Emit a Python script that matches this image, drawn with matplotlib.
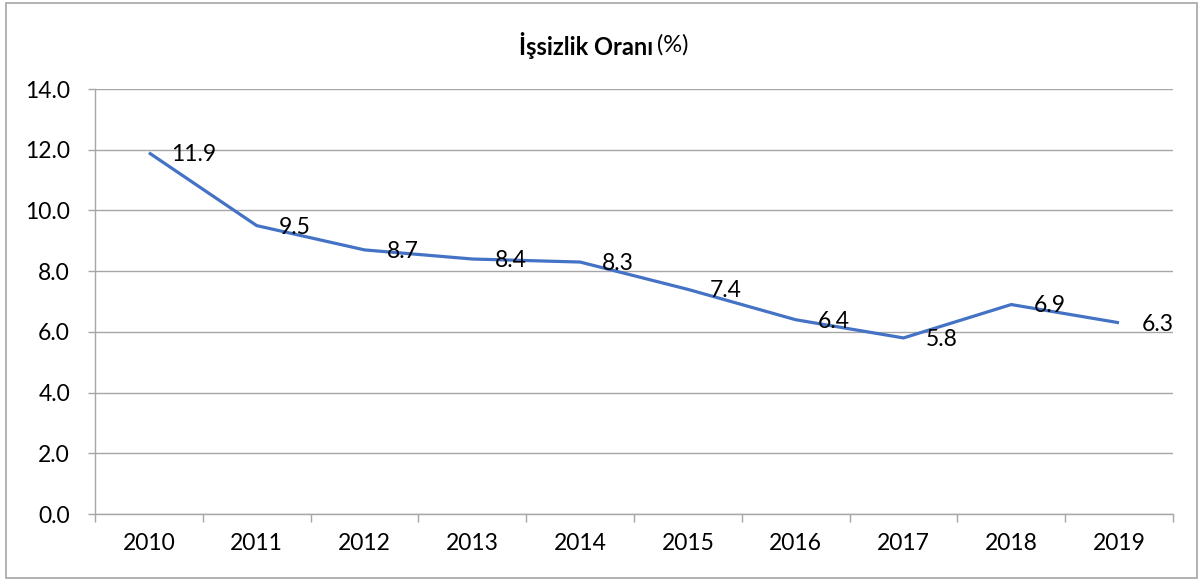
import matplotlib
matplotlib.use("Agg")
from matplotlib import pyplot as plt
from matplotlib.patches import Rectangle
from matplotlib.ticker import FixedLocator, NullFormatter

years = ["2010", "2011", "2012", "2013", "2014", "2015", "2016", "2017", "2018", "2019"]
rates = [11.9, 9.5, 8.7, 8.4, 8.3, 7.4, 6.4, 5.8, 6.9, 6.3]
y_ticks = [0, 2, 4, 6, 8, 10, 12, 14]

plt.rcParams['font.family'] = ['Lato', 'DejaVu Sans']

fig = plt.figure(figsize=(12.03, 5.81), dpi=100)
ax = fig.add_axes([0.079, 0.1153, 0.896, 0.7315])

x = list(range(len(years)))
ax.plot(x, rates, color="#4472C4", lw=2.3, solid_capstyle="butt", zorder=3)

# data labels to the right of each point
for xi, v in zip(x, rates):
    ax.annotate(f"{v:.1f}", (xi, v), xytext=(16, -1), textcoords="offset points",
                ha="left", va="center", fontsize=16.5, color="black", zorder=4)

ax.set_xlim(-0.5, len(years) - 0.5)
ax.set_ylim(0, 14)
ax.set_yticks(y_ticks)
ax.set_yticklabels([f"{t:.1f}" for t in y_ticks], fontsize=16.5)
ax.set_xticks(x)
ax.set_xticklabels(years, fontsize=16.5)
ax.xaxis.set_minor_locator(FixedLocator([i - 0.5 for i in range(len(years) + 1)]))
ax.xaxis.set_minor_formatter(NullFormatter())
ax.tick_params(axis="x", which="major", length=0, pad=14)
ax.tick_params(axis="x", which="minor", length=6, width=1, color="#A6A6A6")
ax.tick_params(axis="y", length=5, width=1, color="#A6A6A6", pad=13)

ax.grid(axis="y", color="#A6A6A6", lw=1)
ax.set_axisbelow(True)
for s in ["top", "right"]:
    ax.spines[s].set_visible(False)
for s in ["left", "bottom"]:
    ax.spines[s].set_color("#A6A6A6")
    ax.spines[s].set_linewidth(1)

# title: bold part + regular part
fig.text(0.5425, 0.922, "İşsizlik Oranı", ha="right", va="center", fontsize=17, fontweight="bold")
fig.text(0.5465, 0.922, "(%)", ha="left", va="center", fontsize=17)

# outer chart border
fig.patches.append(Rectangle((0.005, 0.005), 0.99, 0.99, transform=fig.transFigure,
                             fill=False, edgecolor="#A6A6A6", lw=1.2))

fig.savefig("out.png", dpi=100)
